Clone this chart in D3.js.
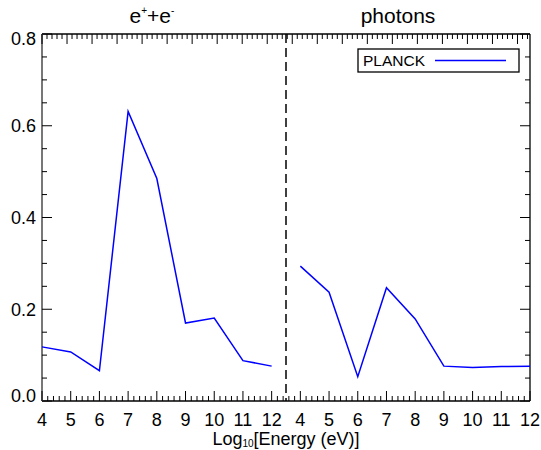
<!DOCTYPE html>
<html><head><meta charset="utf-8">
<script src="https://cdn.jsdelivr.net/npm/d3@7"></script>
<style>body{margin:0;background:#fff}svg{display:block;font-family:"Liberation Sans",Arial,sans-serif}</style>
</head><body><svg id="c" width="541" height="450"></svg>
<script>
const energies = [4, 5, 6, 7, 8, 9, 10, 11, 12];
const epem = [0.118, 0.107, 0.066, 0.631, 0.485, 0.170, 0.181, 0.088, 0.076];
const photons = [0.294, 0.237, 0.053, 0.247, 0.179, 0.076, 0.073, 0.075, 0.076];
const yTicks = [0.0, 0.2, 0.4, 0.6, 0.8];
const panelTitles = ["e+e-", "photons"];
const legendLabel = "PLANCK";

const svg = d3.select("#c");
const L = 42, R = 530, T = 34, B = 401, mid = 286;
const y = d3.scaleLinear().domain([0, 0.8]).range([B, T]);
const xL = d3.scaleLinear().domain([4, 12.5]).range([L, mid]);
const xR = d3.scaleLinear().domain([3.5, 12]).range([mid, R]);
const blue = "#0000ff";

// frame
svg.append("line").attr("x1", L).attr("x2", R).attr("y1", B).attr("y2", B).attr("stroke", "#000").attr("stroke-width", 1.3);
svg.append("line").attr("x1", L).attr("x2", R).attr("y1", T).attr("y2", T).attr("stroke", "#000").attr("stroke-width", 1.3);
svg.append("line").attr("x1", R).attr("x2", R).attr("y1", T).attr("y2", B).attr("stroke", "#000").attr("stroke-width", 1.3);
svg.append("line").attr("x1", L).attr("x2", L).attr("y1", T).attr("y2", B).attr("stroke", "#777").attr("stroke-width", 2);

// y ticks (left & right)
const yMinor = d3.range(0, 0.8001, 0.05);
yMinor.forEach(v => {
  const major = Math.abs(v / 0.2 - Math.round(v / 0.2)) < 1e-6;
  const len = major ? 10 : 5;
  svg.append("line").attr("x1", L).attr("x2", L + len).attr("y1", y(v)).attr("y2", y(v)).attr("stroke", "#000");
  svg.append("line").attr("x1", R).attr("x2", R - len).attr("y1", y(v)).attr("y2", y(v)).attr("stroke", "#000");
});
svg.selectAll(".ylab").data(yTicks).join("text")
  .attr("x", 36).attr("y", d => y(d) + (d === 0.8 ? 5 : d === 0 ? -5 : 0)).attr("dy", "0.35em")
  .attr("text-anchor", "end").attr("font-size", 18).text(d => d.toFixed(1));

// bottom ticks
function bottomTicks(sc, lo, hi) {
  d3.range(lo, hi + 1e-6, 0.2).forEach(v => {
    const major = Math.abs(v - Math.round(v)) < 1e-6;
    const len = major ? 10 : 5;
    svg.append("line").attr("x1", sc(v)).attr("x2", sc(v)).attr("y1", B).attr("y2", B - len).attr("stroke", "#000");
  });
  svg.append("g").selectAll("text").data(energies).join("text")
    .attr("x", d => sc(d)).attr("y", 426).attr("text-anchor", "middle").attr("font-size", 18).text(d => d);
}
bottomTicks(xL, 4, 12.4);
bottomTicks(xR, 3.6, 12);

// top axis ticks
const xTop = d3.scaleLinear().domain([0, 19.5]).range([L, R]);
d3.range(0, 19.5, 0.2).forEach(v => {
  const major = Math.abs(v - Math.round(v)) < 1e-6;
  const len = major ? 10 : 5;
  svg.append("line").attr("x1", xTop(v)).attr("x2", xTop(v)).attr("y1", T).attr("y2", T + len).attr("stroke", "#000");
});

// dashed separator
svg.append("line").attr("x1", mid).attr("x2", mid).attr("y1", T).attr("y2", B)
  .attr("stroke", "#000").attr("stroke-width", 1.5).attr("stroke-dasharray", "9,5");

// lines
const lineL = d3.line().x((d, i) => xL(energies[i])).y(d => y(d));
const lineR = d3.line().x((d, i) => xR(energies[i])).y(d => y(d));
svg.append("path").attr("d", lineL(epem)).attr("fill", "none").attr("stroke", blue).attr("stroke-width", 1.5);
svg.append("path").attr("d", lineR(photons)).attr("fill", "none").attr("stroke", blue).attr("stroke-width", 1.5);

// titles
const t1 = svg.append("text").attr("x", 152).attr("y", 23).attr("text-anchor", "middle").attr("font-size", 21);
t1.append("tspan").text("e");
t1.append("tspan").attr("font-size", 10).attr("dy", -9).text("+");
t1.append("tspan").attr("dy", 9).text("+e");
t1.append("tspan").attr("font-size", 10).attr("dy", -9).text("-");
svg.append("text").attr("x", 398).attr("y", 23).attr("text-anchor", "middle").attr("font-size", 21).text(panelTitles[1]);

// x title
const xt = svg.append("text").attr("x", 286).attr("y", 445).attr("text-anchor", "middle").attr("font-size", 18);
xt.append("tspan").text("Log");
xt.append("tspan").attr("font-size", 10).attr("dy", 2).text("10");
xt.append("tspan").attr("dy", -2).text("[Energy (eV)]");

// legend
svg.append("rect").attr("x", 358).attr("y", 49).attr("width", 161).attr("height", 23)
  .attr("fill", "#fff").attr("stroke", "#000").attr("stroke-width", 1.3);
svg.append("text").attr("x", 363).attr("y", 66).attr("font-size", 15.5).text(legendLabel);
svg.append("line").attr("x1", 435).attr("x2", 506).attr("y1", 60.5).attr("y2", 60.5).attr("stroke", blue).attr("stroke-width", 1.5);
</script></body></html>
